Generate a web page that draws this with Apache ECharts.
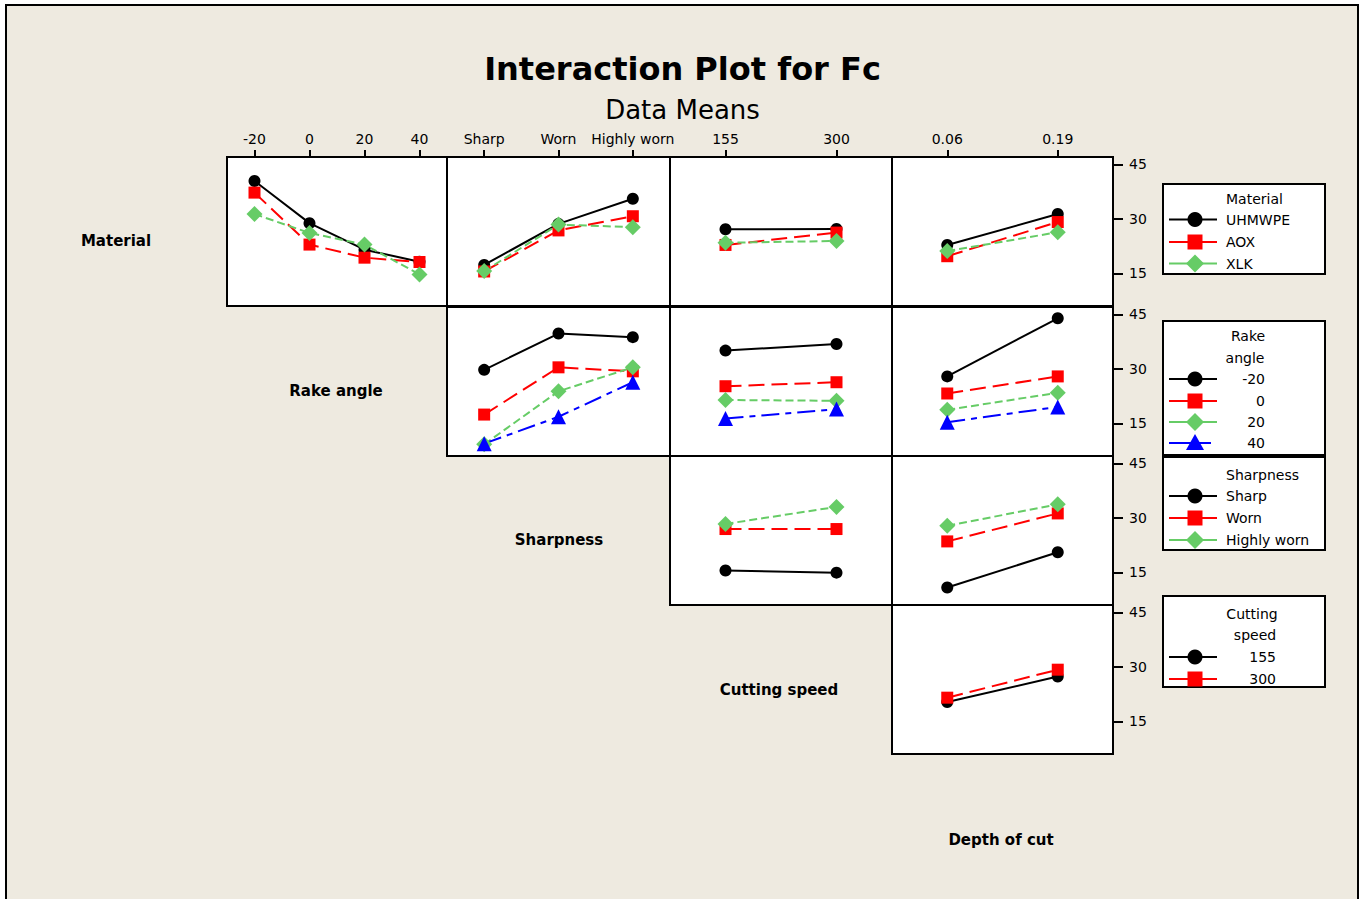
<!DOCTYPE html>
<html>
<head>
<meta charset="utf-8">
<title>Interaction Plot for Fc</title>
<script src="https://cdn.jsdelivr.net/npm/echarts@6.0.0/dist/echarts.min.js"></script>
<style>
  html, body { margin: 0; padding: 0; background: #fff; }
  #frame { position: absolute; left: 5px; top: 4px; width: 1350px; height: 1000px;
           border: 2px solid #000; border-bottom: none; background: #eeeae0; }
  #chart { position: absolute; left: 0; top: 0; width: 1365px; height: 899px; }
</style>
</head>
<body>
<div id="frame"></div>
<div id="chart"></div>
<script>
// factor levels
var materialLevels = ['UHMWPE', 'AOX', 'XLK'];
var rakeLevels = ['-20', '0', '20', '40'];
var sharpLevels = ['Sharp', 'Worn', 'Highly worn'];
var speedLevels = ['155', '300'];
var depthLevels = ['0.06', '0.19'];
var yTicks = [15, 30, 45];

// means of Fc, one row per level of the trace factor
var materialByRake = [[40.4, 28.8, 21.5, 18.2], [37.2, 22.9, 19.3, 18.1], [31.3, 26.1, 22.9, 14.7]];
var materialBySharp = [[17.3, 28.6, 35.5], [15.5, 26.8, 30.7], [15.6, 28.4, 27.7]];
var materialBySpeed = [[27.1, 27.2], [22.8, 26.2], [23.4, 23.9]];
var materialByDepth = [[22.8, 31.3], [19.7, 29.1], [21.1, 26.3]];
var rakeBySharp = [[29.7, 39.7, 38.7], [17.4, 30.4, 29.3], [9.2, 23.8, 30.4], [9.4, 16.8, 26.3]];
var rakeBySpeed = [[35.0, 36.8], [25.2, 26.3], [21.4, 21.2], [16.3, 18.9]];
var rakeByDepth = [[27.9, 43.9], [23.2, 27.9], [18.7, 23.4], [15.3, 19.5]];
var sharpBySpeed = [[15.5, 14.9], [26.9, 26.9], [28.3, 33.0]];
var sharpByDepth = [[10.8, 20.5], [23.5, 31.2], [27.8, 33.7]];
var speedByDepth = [[20.3, 27.3], [21.5, 29.2]];

var factorNames = ['Material', 'Rake angle', 'Sharpness', 'Cutting speed', 'Depth of cut'];

// x factor per column, trace factor per row
var xFactors = [rakeLevels, sharpLevels, speedLevels, depthLevels];
var traceFactors = [materialLevels, rakeLevels, sharpLevels, speedLevels];
var panelMeans = [
  [materialByRake, materialBySharp, materialBySpeed, materialByDepth],
  [null, rakeBySharp, rakeBySpeed, rakeByDepth],
  [null, null, sharpBySpeed, sharpByDepth],
  [null, null, null, speedByDepth]
];

var traceStyles = [
  {color: '#000000', symbol: 'circle', size: 12, dash: 'solid'},
  {color: '#ff0000', symbol: 'rect', size: 12, dash: [16, 7]},
  {color: '#66cc66', symbol: 'diamond', size: 16, dash: [8, 4]},
  {color: '#0000ff', symbol: 'triangle', size: 15, dash: [18, 6, 6, 6]}
];

var font = 'DejaVu Sans';
var colLeft = [227, 447, 670, 892];
var colWidth = [220, 223, 222, 221];
var rowTop = [157, 307, 456, 605];
var rowHeight = 149;

var grids = [], xAxes = [], yAxes = [], series = [];
var idx = 0;
for (var r = 0; r < 4; r++) {
  for (var c = r; c < 4; c++) {
    grids.push({
      left: colLeft[c], top: rowTop[r], width: colWidth[c], height: rowHeight,
      show: true, backgroundColor: '#fff', borderColor: '#000', borderWidth: 2
    });
    xAxes.push({
      gridIndex: idx, type: 'category', data: xFactors[c], boundaryGap: true,
      position: 'top', show: r === 0,
      axisLine: {show: false},
      axisTick: {show: true, alignWithLabel: true, length: 7, lineStyle: {color: '#000', width: 2}},
      axisLabel: {interval: 0, margin: 11, fontSize: 14, color: '#000', fontFamily: font}
    });
    yAxes.push({
      gridIndex: idx, type: 'value', min: 6, max: 47, position: 'right', show: c === 3,
      splitLine: {show: false},
      axisLine: {show: false},
      axisTick: {show: true, customValues: yTicks, length: 10, lineStyle: {color: '#000', width: 2}},
      axisLabel: {customValues: yTicks, margin: 16, fontSize: 14, color: '#000', fontFamily: font}
    });
    var means = panelMeans[r][c];
    for (var k = 0; k < means.length; k++) {
      var st = traceStyles[k];
      series.push({
        type: 'line', name: traceFactors[r][k], xAxisIndex: idx, yAxisIndex: idx,
        data: means[k], symbol: st.symbol, symbolSize: st.size, showSymbol: true,
        itemStyle: {color: st.color},
        lineStyle: {color: st.color, width: 2, type: st.dash},
        animation: false
      });
    }
    idx++;
  }
}

// factor names on the diagonal
var graphics = [];
var diagX = [116, 336, 559, 779, 1001];
var diagY = [241, 391, 540, 690, 840];
for (var i = 0; i < factorNames.length; i++) {
  graphics.push({
    type: 'text', x: diagX[i], y: diagY[i],
    style: {text: factorNames[i], font: 'bold 15px ' + font, fill: '#000', align: 'center', verticalAlign: 'middle'}
  });
}

// legend boxes drawn by hand (Minitab style)
var legends = [
  {top: 184, height: 90, titles: [['Material', 1226, 199, 'left']], levels: materialLevels,
   rows: [219.5, 242, 263.5], textX: 1226, align: 'left'},
  {top: 321, height: 134, titles: [['Rake', 1248, 336, 'center'], ['angle', 1245, 358, 'center']], levels: rakeLevels,
   rows: [379, 401, 422, 443], textX: 1265, align: 'right'},
  {top: 457, height: 93, titles: [['Sharpness', 1226, 475, 'left']], levels: sharpLevels,
   rows: [496, 518, 540], textX: 1226, align: 'left'},
  {top: 596, height: 91, titles: [['Cutting', 1252, 614, 'center'], ['speed', 1255, 635, 'center']], levels: speedLevels,
   rows: [657, 679], textX: 1276, align: 'right'}
];

function marker(st, cx, cy) {
  if (st.symbol === 'circle') {
    return {type: 'circle', shape: {cx: cx, cy: cy, r: 7.5}, style: {fill: st.color}};
  }
  if (st.symbol === 'rect') {
    return {type: 'rect', shape: {x: cx - 7.5, y: cy - 7.5, width: 15, height: 15}, style: {fill: st.color}};
  }
  if (st.symbol === 'diamond') {
    return {type: 'polygon', shape: {points: [[cx, cy - 9], [cx + 9, cy], [cx, cy + 9], [cx - 9, cy]]}, style: {fill: st.color}};
  }
  return {type: 'polygon', shape: {points: [[cx, cy - 9], [cx + 9, cy + 7], [cx - 9, cy + 7]]}, style: {fill: st.color}};
}

legends.forEach(function (lg) {
  graphics.push({
    type: 'rect', shape: {x: 1163, y: lg.top, width: 162, height: lg.height},
    style: {fill: '#fff', stroke: '#000', lineWidth: 2}
  });
  lg.titles.forEach(function (t) {
    graphics.push({type: 'text', x: t[1], y: t[2],
      style: {text: t[0], font: '14px ' + font, fill: '#000', align: t[3], verticalAlign: 'middle'}});
  });
  lg.levels.forEach(function (name, k) {
    var st = traceStyles[k], y = lg.rows[k];
    graphics.push({type: 'line', shape: {x1: 1169, y1: y, x2: k === 3 ? 1211 : 1217, y2: y},
      style: {stroke: st.color, lineWidth: 2}});
    graphics.push(marker(st, 1195, y));
    graphics.push({type: 'text', x: lg.textX, y: y,
      style: {text: name, font: '14px ' + font, fill: '#000', align: lg.align, verticalAlign: 'middle'}});
  });
});

var chart = echarts.init(document.getElementById('chart'), null, {renderer: 'svg'});
chart.setOption({
  backgroundColor: 'transparent',
  animation: false,
  textStyle: {fontFamily: font},
  title: {
    text: 'Interaction Plot for Fc', subtext: 'Data Means', left: 'center', top: 51, padding: 0, itemGap: 8,
    textStyle: {fontSize: 32, fontWeight: 'bold', color: '#000', lineHeight: 36, fontFamily: font},
    subtextStyle: {fontSize: 26, color: '#000', lineHeight: 30, fontFamily: font}
  },
  grid: grids,
  xAxis: xAxes,
  yAxis: yAxes,
  series: series,
  graphic: graphics
});
</script>
</body>
</html>
